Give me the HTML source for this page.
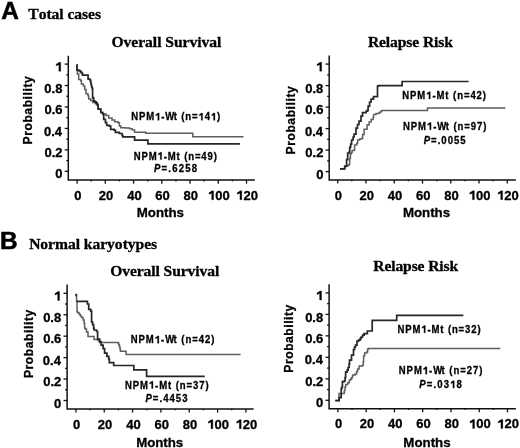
<!DOCTYPE html>
<html><head><meta charset="utf-8"><style>
html,body{margin:0;padding:0;background:#fff;}
svg{display:block;filter:grayscale(1);}
text{fill:#000;font-kerning:none;stroke:#000;stroke-width:0.3px;}
</style></head><body>
<svg width="520" height="448" viewBox="0 0 520 448">
<rect width="520" height="448" fill="#fff"/>
<path d="M68.30,55.80V180.10H254.80" fill="none" stroke="#111" stroke-width="1.5"/>
<path d="M64.70,64.10H68.30" stroke="#111" stroke-width="1.3"/>
<path d="M66.30,74.82H68.30" stroke="#111" stroke-width="1.3"/>
<path d="M64.70,85.54H68.30" stroke="#111" stroke-width="1.3"/>
<path d="M66.30,96.26H68.30" stroke="#111" stroke-width="1.3"/>
<path d="M64.70,106.98H68.30" stroke="#111" stroke-width="1.3"/>
<path d="M66.30,117.70H68.30" stroke="#111" stroke-width="1.3"/>
<path d="M64.70,128.42H68.30" stroke="#111" stroke-width="1.3"/>
<path d="M66.30,139.14H68.30" stroke="#111" stroke-width="1.3"/>
<path d="M64.70,149.86H68.30" stroke="#111" stroke-width="1.3"/>
<path d="M66.30,160.58H68.30" stroke="#111" stroke-width="1.3"/>
<path d="M64.70,171.30H68.30" stroke="#111" stroke-width="1.3"/>
<path d="M77.10,180.10V183.70" stroke="#111" stroke-width="1.3"/>
<path d="M91.22,180.10V181.40" stroke="#111" stroke-width="1.3"/>
<path d="M105.33,180.10V183.70" stroke="#111" stroke-width="1.3"/>
<path d="M119.45,180.10V181.40" stroke="#111" stroke-width="1.3"/>
<path d="M133.57,180.10V183.70" stroke="#111" stroke-width="1.3"/>
<path d="M147.68,180.10V181.40" stroke="#111" stroke-width="1.3"/>
<path d="M161.80,180.10V183.70" stroke="#111" stroke-width="1.3"/>
<path d="M175.92,180.10V181.40" stroke="#111" stroke-width="1.3"/>
<path d="M190.03,180.10V183.70" stroke="#111" stroke-width="1.3"/>
<path d="M204.15,180.10V181.40" stroke="#111" stroke-width="1.3"/>
<path d="M218.27,180.10V183.70" stroke="#111" stroke-width="1.3"/>
<path d="M232.38,180.10V181.40" stroke="#111" stroke-width="1.3"/>
<path d="M246.50,180.10V183.70" stroke="#111" stroke-width="1.3"/>
<path d="M329.20,55.50V180.00H515.90" fill="none" stroke="#111" stroke-width="1.5"/>
<path d="M325.60,64.10H329.20" stroke="#111" stroke-width="1.3"/>
<path d="M327.20,74.85H329.20" stroke="#111" stroke-width="1.3"/>
<path d="M325.60,85.60H329.20" stroke="#111" stroke-width="1.3"/>
<path d="M327.20,96.35H329.20" stroke="#111" stroke-width="1.3"/>
<path d="M325.60,107.10H329.20" stroke="#111" stroke-width="1.3"/>
<path d="M327.20,117.85H329.20" stroke="#111" stroke-width="1.3"/>
<path d="M325.60,128.60H329.20" stroke="#111" stroke-width="1.3"/>
<path d="M327.20,139.35H329.20" stroke="#111" stroke-width="1.3"/>
<path d="M325.60,150.10H329.20" stroke="#111" stroke-width="1.3"/>
<path d="M327.20,160.85H329.20" stroke="#111" stroke-width="1.3"/>
<path d="M325.60,171.60H329.20" stroke="#111" stroke-width="1.3"/>
<path d="M337.70,180.00V183.60" stroke="#111" stroke-width="1.3"/>
<path d="M351.83,180.00V181.30" stroke="#111" stroke-width="1.3"/>
<path d="M365.97,180.00V183.60" stroke="#111" stroke-width="1.3"/>
<path d="M380.10,180.00V181.30" stroke="#111" stroke-width="1.3"/>
<path d="M394.23,180.00V183.60" stroke="#111" stroke-width="1.3"/>
<path d="M408.37,180.00V181.30" stroke="#111" stroke-width="1.3"/>
<path d="M422.50,180.00V183.60" stroke="#111" stroke-width="1.3"/>
<path d="M436.63,180.00V181.30" stroke="#111" stroke-width="1.3"/>
<path d="M450.77,180.00V183.60" stroke="#111" stroke-width="1.3"/>
<path d="M464.90,180.00V181.30" stroke="#111" stroke-width="1.3"/>
<path d="M479.03,180.00V183.60" stroke="#111" stroke-width="1.3"/>
<path d="M493.17,180.00V181.30" stroke="#111" stroke-width="1.3"/>
<path d="M507.30,180.00V183.60" stroke="#111" stroke-width="1.3"/>
<path d="M67.10,284.50V409.00H253.60" fill="none" stroke="#111" stroke-width="1.5"/>
<path d="M63.50,293.30H67.10" stroke="#111" stroke-width="1.3"/>
<path d="M65.10,304.02H67.10" stroke="#111" stroke-width="1.3"/>
<path d="M63.50,314.74H67.10" stroke="#111" stroke-width="1.3"/>
<path d="M65.10,325.46H67.10" stroke="#111" stroke-width="1.3"/>
<path d="M63.50,336.18H67.10" stroke="#111" stroke-width="1.3"/>
<path d="M65.10,346.90H67.10" stroke="#111" stroke-width="1.3"/>
<path d="M63.50,357.62H67.10" stroke="#111" stroke-width="1.3"/>
<path d="M65.10,368.34H67.10" stroke="#111" stroke-width="1.3"/>
<path d="M63.50,379.06H67.10" stroke="#111" stroke-width="1.3"/>
<path d="M65.10,389.78H67.10" stroke="#111" stroke-width="1.3"/>
<path d="M63.50,400.50H67.10" stroke="#111" stroke-width="1.3"/>
<path d="M75.90,409.00V412.60" stroke="#111" stroke-width="1.3"/>
<path d="M90.07,409.00V410.30" stroke="#111" stroke-width="1.3"/>
<path d="M104.23,409.00V412.60" stroke="#111" stroke-width="1.3"/>
<path d="M118.40,409.00V410.30" stroke="#111" stroke-width="1.3"/>
<path d="M132.57,409.00V412.60" stroke="#111" stroke-width="1.3"/>
<path d="M146.73,409.00V410.30" stroke="#111" stroke-width="1.3"/>
<path d="M160.90,409.00V412.60" stroke="#111" stroke-width="1.3"/>
<path d="M175.07,409.00V410.30" stroke="#111" stroke-width="1.3"/>
<path d="M189.23,409.00V412.60" stroke="#111" stroke-width="1.3"/>
<path d="M203.40,409.00V410.30" stroke="#111" stroke-width="1.3"/>
<path d="M217.57,409.00V412.60" stroke="#111" stroke-width="1.3"/>
<path d="M231.73,409.00V410.30" stroke="#111" stroke-width="1.3"/>
<path d="M245.90,409.00V412.60" stroke="#111" stroke-width="1.3"/>
<path d="M329.10,284.20V408.70H515.90" fill="none" stroke="#111" stroke-width="1.5"/>
<path d="M325.50,292.90H329.10" stroke="#111" stroke-width="1.3"/>
<path d="M327.10,303.64H329.10" stroke="#111" stroke-width="1.3"/>
<path d="M325.50,314.38H329.10" stroke="#111" stroke-width="1.3"/>
<path d="M327.10,325.12H329.10" stroke="#111" stroke-width="1.3"/>
<path d="M325.50,335.86H329.10" stroke="#111" stroke-width="1.3"/>
<path d="M327.10,346.60H329.10" stroke="#111" stroke-width="1.3"/>
<path d="M325.50,357.34H329.10" stroke="#111" stroke-width="1.3"/>
<path d="M327.10,368.08H329.10" stroke="#111" stroke-width="1.3"/>
<path d="M325.50,378.82H329.10" stroke="#111" stroke-width="1.3"/>
<path d="M327.10,389.56H329.10" stroke="#111" stroke-width="1.3"/>
<path d="M325.50,400.30H329.10" stroke="#111" stroke-width="1.3"/>
<path d="M337.90,408.70V412.30" stroke="#111" stroke-width="1.3"/>
<path d="M352.03,408.70V410.00" stroke="#111" stroke-width="1.3"/>
<path d="M366.17,408.70V412.30" stroke="#111" stroke-width="1.3"/>
<path d="M380.30,408.70V410.00" stroke="#111" stroke-width="1.3"/>
<path d="M394.43,408.70V412.30" stroke="#111" stroke-width="1.3"/>
<path d="M408.57,408.70V410.00" stroke="#111" stroke-width="1.3"/>
<path d="M422.70,408.70V412.30" stroke="#111" stroke-width="1.3"/>
<path d="M436.83,408.70V410.00" stroke="#111" stroke-width="1.3"/>
<path d="M450.97,408.70V412.30" stroke="#111" stroke-width="1.3"/>
<path d="M465.10,408.70V410.00" stroke="#111" stroke-width="1.3"/>
<path d="M479.23,408.70V412.30" stroke="#111" stroke-width="1.3"/>
<path d="M493.37,408.70V410.00" stroke="#111" stroke-width="1.3"/>
<path d="M507.50,408.70V412.30" stroke="#111" stroke-width="1.3"/>
<text y="178.44" font-family='"Liberation Sans", sans-serif' font-weight="bold" font-size="13.0"><tspan x="55.30">0</tspan></text>
<text y="157.00" font-family='"Liberation Sans", sans-serif' font-weight="bold" font-size="13.0"><tspan x="44.45 51.68 55.29">0.2</tspan></text>
<text y="135.56" font-family='"Liberation Sans", sans-serif' font-weight="bold" font-size="13.0"><tspan x="44.00 51.23 54.84">0.4</tspan></text>
<text y="114.12" font-family='"Liberation Sans", sans-serif' font-weight="bold" font-size="13.0"><tspan x="44.40 51.63 55.24">0.6</tspan></text>
<text y="92.68" font-family='"Liberation Sans", sans-serif' font-weight="bold" font-size="13.0"><tspan x="44.33 51.56 55.17">0.8</tspan></text>
<text y="71.24" font-family='"Liberation Sans", sans-serif' font-weight="bold" font-size="13.0"><tspan x="55.13"> </tspan></text><path d="M586,0L586,1012L160,870L160,1100L640,1409L880,1409L880,0Z" transform="translate(55.13,71.24) scale(0.00635,-0.00635)" fill="#000" stroke="#000" stroke-width="0.3" vector-effect="non-scaling-stroke"/>
<text y="199.80" font-family='"Liberation Sans", sans-serif' font-weight="bold" font-size="13.0"><tspan x="74.19">0</tspan></text>
<text y="199.80" font-family='"Liberation Sans", sans-serif' font-weight="bold" font-size="13.0"><tspan x="98.84 106.07">20</tspan></text>
<text y="199.80" font-family='"Liberation Sans", sans-serif' font-weight="bold" font-size="13.0"><tspan x="127.20 134.43">40</tspan></text>
<text y="199.80" font-family='"Liberation Sans", sans-serif' font-weight="bold" font-size="13.0"><tspan x="155.30 162.53">60</tspan></text>
<text y="199.80" font-family='"Liberation Sans", sans-serif' font-weight="bold" font-size="13.0"><tspan x="183.56 190.79">80</tspan></text>
<text y="199.80" font-family='"Liberation Sans", sans-serif' font-weight="bold" font-size="13.0"><tspan x="207.98 215.21 222.44"> 00</tspan></text><path d="M586,0L586,1012L160,870L160,1100L640,1409L880,1409L880,0Z" transform="translate(207.98,199.80) scale(0.00635,-0.00635)" fill="#000" stroke="#000" stroke-width="0.3" vector-effect="non-scaling-stroke"/>
<text y="199.80" font-family='"Liberation Sans", sans-serif' font-weight="bold" font-size="13.0"><tspan x="236.21 243.44 250.67"> 20</tspan></text><path d="M586,0L586,1012L160,870L160,1100L640,1409L880,1409L880,0Z" transform="translate(236.21,199.80) scale(0.00635,-0.00635)" fill="#000" stroke="#000" stroke-width="0.3" vector-effect="non-scaling-stroke"/>
<text y="178.74" font-family='"Liberation Sans", sans-serif' font-weight="bold" font-size="13.0"><tspan x="316.20">0</tspan></text>
<text y="157.24" font-family='"Liberation Sans", sans-serif' font-weight="bold" font-size="13.0"><tspan x="305.35 312.58 316.19">0.2</tspan></text>
<text y="135.74" font-family='"Liberation Sans", sans-serif' font-weight="bold" font-size="13.0"><tspan x="304.90 312.13 315.74">0.4</tspan></text>
<text y="114.24" font-family='"Liberation Sans", sans-serif' font-weight="bold" font-size="13.0"><tspan x="305.30 312.53 316.14">0.6</tspan></text>
<text y="92.74" font-family='"Liberation Sans", sans-serif' font-weight="bold" font-size="13.0"><tspan x="305.23 312.46 316.07">0.8</tspan></text>
<text y="71.24" font-family='"Liberation Sans", sans-serif' font-weight="bold" font-size="13.0"><tspan x="316.03"> </tspan></text><path d="M586,0L586,1012L160,870L160,1100L640,1409L880,1409L880,0Z" transform="translate(316.03,71.24) scale(0.00635,-0.00635)" fill="#000" stroke="#000" stroke-width="0.3" vector-effect="non-scaling-stroke"/>
<text y="199.70" font-family='"Liberation Sans", sans-serif' font-weight="bold" font-size="13.0"><tspan x="334.79">0</tspan></text>
<text y="199.70" font-family='"Liberation Sans", sans-serif' font-weight="bold" font-size="13.0"><tspan x="359.48 366.71">20</tspan></text>
<text y="199.70" font-family='"Liberation Sans", sans-serif' font-weight="bold" font-size="13.0"><tspan x="387.87 395.10">40</tspan></text>
<text y="199.70" font-family='"Liberation Sans", sans-serif' font-weight="bold" font-size="13.0"><tspan x="416.00 423.23">60</tspan></text>
<text y="199.70" font-family='"Liberation Sans", sans-serif' font-weight="bold" font-size="13.0"><tspan x="444.30 451.53">80</tspan></text>
<text y="199.70" font-family='"Liberation Sans", sans-serif' font-weight="bold" font-size="13.0"><tspan x="468.75 475.98 483.21"> 00</tspan></text><path d="M586,0L586,1012L160,870L160,1100L640,1409L880,1409L880,0Z" transform="translate(468.75,199.70) scale(0.00635,-0.00635)" fill="#000" stroke="#000" stroke-width="0.3" vector-effect="non-scaling-stroke"/>
<text y="199.70" font-family='"Liberation Sans", sans-serif' font-weight="bold" font-size="13.0"><tspan x="497.01 504.24 511.47"> 20</tspan></text><path d="M586,0L586,1012L160,870L160,1100L640,1409L880,1409L880,0Z" transform="translate(497.01,199.70) scale(0.00635,-0.00635)" fill="#000" stroke="#000" stroke-width="0.3" vector-effect="non-scaling-stroke"/>
<text y="407.64" font-family='"Liberation Sans", sans-serif' font-weight="bold" font-size="13.0"><tspan x="54.10">0</tspan></text>
<text y="386.20" font-family='"Liberation Sans", sans-serif' font-weight="bold" font-size="13.0"><tspan x="43.25 50.48 54.09">0.2</tspan></text>
<text y="364.76" font-family='"Liberation Sans", sans-serif' font-weight="bold" font-size="13.0"><tspan x="42.80 50.03 53.64">0.4</tspan></text>
<text y="343.32" font-family='"Liberation Sans", sans-serif' font-weight="bold" font-size="13.0"><tspan x="43.20 50.43 54.04">0.6</tspan></text>
<text y="321.88" font-family='"Liberation Sans", sans-serif' font-weight="bold" font-size="13.0"><tspan x="43.13 50.36 53.97">0.8</tspan></text>
<text y="300.44" font-family='"Liberation Sans", sans-serif' font-weight="bold" font-size="13.0"><tspan x="53.93"> </tspan></text><path d="M586,0L586,1012L160,870L160,1100L640,1409L880,1409L880,0Z" transform="translate(53.93,300.44) scale(0.00635,-0.00635)" fill="#000" stroke="#000" stroke-width="0.3" vector-effect="non-scaling-stroke"/>
<text y="428.70" font-family='"Liberation Sans", sans-serif' font-weight="bold" font-size="13.0"><tspan x="72.99">0</tspan></text>
<text y="428.70" font-family='"Liberation Sans", sans-serif' font-weight="bold" font-size="13.0"><tspan x="97.74 104.97">20</tspan></text>
<text y="428.70" font-family='"Liberation Sans", sans-serif' font-weight="bold" font-size="13.0"><tspan x="126.20 133.43">40</tspan></text>
<text y="428.70" font-family='"Liberation Sans", sans-serif' font-weight="bold" font-size="13.0"><tspan x="154.40 161.63">60</tspan></text>
<text y="428.70" font-family='"Liberation Sans", sans-serif' font-weight="bold" font-size="13.0"><tspan x="182.76 189.99">80</tspan></text>
<text y="428.70" font-family='"Liberation Sans", sans-serif' font-weight="bold" font-size="13.0"><tspan x="207.28 214.51 221.74"> 00</tspan></text><path d="M586,0L586,1012L160,870L160,1100L640,1409L880,1409L880,0Z" transform="translate(207.28,428.70) scale(0.00635,-0.00635)" fill="#000" stroke="#000" stroke-width="0.3" vector-effect="non-scaling-stroke"/>
<text y="428.70" font-family='"Liberation Sans", sans-serif' font-weight="bold" font-size="13.0"><tspan x="235.61 242.84 250.07"> 20</tspan></text><path d="M586,0L586,1012L160,870L160,1100L640,1409L880,1409L880,0Z" transform="translate(235.61,428.70) scale(0.00635,-0.00635)" fill="#000" stroke="#000" stroke-width="0.3" vector-effect="non-scaling-stroke"/>
<text y="407.44" font-family='"Liberation Sans", sans-serif' font-weight="bold" font-size="13.0"><tspan x="316.10">0</tspan></text>
<text y="385.96" font-family='"Liberation Sans", sans-serif' font-weight="bold" font-size="13.0"><tspan x="305.25 312.48 316.09">0.2</tspan></text>
<text y="364.48" font-family='"Liberation Sans", sans-serif' font-weight="bold" font-size="13.0"><tspan x="304.80 312.03 315.64">0.4</tspan></text>
<text y="343.00" font-family='"Liberation Sans", sans-serif' font-weight="bold" font-size="13.0"><tspan x="305.20 312.43 316.04">0.6</tspan></text>
<text y="321.52" font-family='"Liberation Sans", sans-serif' font-weight="bold" font-size="13.0"><tspan x="305.13 312.36 315.97">0.8</tspan></text>
<text y="300.04" font-family='"Liberation Sans", sans-serif' font-weight="bold" font-size="13.0"><tspan x="315.93"> </tspan></text><path d="M586,0L586,1012L160,870L160,1100L640,1409L880,1409L880,0Z" transform="translate(315.93,300.04) scale(0.00635,-0.00635)" fill="#000" stroke="#000" stroke-width="0.3" vector-effect="non-scaling-stroke"/>
<text y="428.40" font-family='"Liberation Sans", sans-serif' font-weight="bold" font-size="13.0"><tspan x="334.99">0</tspan></text>
<text y="428.40" font-family='"Liberation Sans", sans-serif' font-weight="bold" font-size="13.0"><tspan x="359.68 366.91">20</tspan></text>
<text y="428.40" font-family='"Liberation Sans", sans-serif' font-weight="bold" font-size="13.0"><tspan x="388.07 395.30">40</tspan></text>
<text y="428.40" font-family='"Liberation Sans", sans-serif' font-weight="bold" font-size="13.0"><tspan x="416.20 423.43">60</tspan></text>
<text y="428.40" font-family='"Liberation Sans", sans-serif' font-weight="bold" font-size="13.0"><tspan x="444.50 451.73">80</tspan></text>
<text y="428.40" font-family='"Liberation Sans", sans-serif' font-weight="bold" font-size="13.0"><tspan x="468.95 476.18 483.41"> 00</tspan></text><path d="M586,0L586,1012L160,870L160,1100L640,1409L880,1409L880,0Z" transform="translate(468.95,428.40) scale(0.00635,-0.00635)" fill="#000" stroke="#000" stroke-width="0.3" vector-effect="non-scaling-stroke"/>
<text y="428.40" font-family='"Liberation Sans", sans-serif' font-weight="bold" font-size="13.0"><tspan x="497.21 504.44 511.67"> 20</tspan></text><path d="M586,0L586,1012L160,870L160,1100L640,1409L880,1409L880,0Z" transform="translate(497.21,428.40) scale(0.00635,-0.00635)" fill="#000" stroke="#000" stroke-width="0.3" vector-effect="non-scaling-stroke"/>
<text transform="translate(1.34,19.25) scale(1.0,1)" y="0" font-family='"Liberation Sans", sans-serif' font-weight="bold" font-size="24.4" style="stroke-width:0.55px"><tspan x="0.00">A</tspan></text>
<text transform="translate(28.31,19.05) scale(1.0,1)" y="0" font-family='"Liberation Serif", serif' font-weight="bold" font-size="15.6"><tspan x="0.00 10.36 18.11 23.25 31.00 35.28 39.13 46.01 53.76 59.78 66.65">Total cases</tspan></text>
<text transform="translate(0.12,249.35) scale(1.0,1)" y="0" font-family='"Liberation Sans", sans-serif' font-weight="bold" font-size="24.4" style="stroke-width:0.55px"><tspan x="0.00">B</tspan></text>
<text transform="translate(29.15,248.75) scale(1.0,1)" y="0" font-family='"Liberation Serif", serif' font-weight="bold" font-size="15.6"><tspan x="0.00 11.22 18.98 25.86 38.81 46.56 50.85 54.71 63.34 71.10 77.98 85.73 93.49 98.64 106.40 115.03 121.91">Normal karyotypes</tspan></text>
<text transform="translate(111.49,46.65) scale(1.0,1)" y="0" font-family='"Liberation Serif", serif' font-weight="bold" font-size="15.6"><tspan x="0.00 12.10 19.86 26.74 33.63 41.39 45.69 49.99 53.85 62.49 71.12 78.01 85.77 90.07 97.83 105.59">Overall Survival</tspan></text>
<text transform="translate(367.88,47.05) scale(1.0,1)" y="0" font-family='"Liberation Serif", serif' font-weight="bold" font-size="15.6"><tspan x="0.00 11.16 17.98 22.21 29.90 38.48 44.44 51.26 55.06 66.22 70.45 76.41">Relapse Risk</tspan></text>
<text transform="translate(110.19,275.65) scale(1.0,1)" y="0" font-family='"Liberation Serif", serif' font-weight="bold" font-size="15.6"><tspan x="0.00 12.04 19.75 26.58 33.42 41.13 45.37 49.61 53.42 62.01 70.59 77.42 85.13 89.38 97.09 104.79">Overall Survival</tspan></text>
<text transform="translate(373.28,270.95) scale(1.0,1)" y="0" font-family='"Liberation Serif", serif' font-weight="bold" font-size="15.6"><tspan x="0.00 11.14 17.94 22.16 29.83 38.39 44.33 51.13 54.91 66.05 70.27 76.21">Relapse Risk</tspan></text>
<text transform="translate(136.76,216.95) scale(1.0,1)" y="0" font-family='"Liberation Sans", sans-serif' font-weight="bold" font-size="13.3"><tspan x="0.00 11.05 19.15 27.24 31.64 39.74">Months</tspan></text>
<text transform="translate(402.96,217.35) scale(1.0,1)" y="0" font-family='"Liberation Sans", sans-serif' font-weight="bold" font-size="13.3"><tspan x="0.00 11.05 19.15 27.24 31.64 39.74">Months</tspan></text>
<text transform="translate(136.16,447.35) scale(1.0,1)" y="0" font-family='"Liberation Sans", sans-serif' font-weight="bold" font-size="13.3"><tspan x="0.00 11.03 19.11 27.18 31.56 39.64">Months</tspan></text>
<text transform="translate(403.36,446.95) scale(1.0,1)" y="0" font-family='"Liberation Sans", sans-serif' font-weight="bold" font-size="13.3"><tspan x="0.00 11.07 19.19 27.30 31.72 39.84">Months</tspan></text>
<g transform="rotate(-90)"><text transform="translate(-144.46,31.65) scale(0.9,1)" y="0" font-family='"Liberation Sans", sans-serif' font-weight="bold" font-size="13.4"><tspan x="0.00 9.59 15.45 24.29 33.12 41.23 50.06 54.43 58.81 63.18 68.29">Probability</tspan></text></g>
<g transform="rotate(-90)"><text transform="translate(-154.46,294.55) scale(0.9,1)" y="0" font-family='"Liberation Sans", sans-serif' font-weight="bold" font-size="13.4"><tspan x="0.00 9.59 15.45 24.29 33.12 41.23 50.06 54.43 58.81 63.18 68.29">Probability</tspan></text></g>
<g transform="rotate(-90)"><text transform="translate(-378.06,32.55) scale(0.9,1)" y="0" font-family='"Liberation Sans", sans-serif' font-weight="bold" font-size="13.4"><tspan x="0.00 9.60 15.48 24.32 33.17 41.28 50.13 54.51 58.90 63.28 68.40">Probability</tspan></text></g>
<g transform="rotate(-90)"><text transform="translate(-372.66,293.35) scale(0.9,1)" y="0" font-family='"Liberation Sans", sans-serif' font-weight="bold" font-size="13.4"><tspan x="0.00 9.57 15.41 24.22 33.03 41.12 49.93 54.28 58.63 62.98 68.07">Probability</tspan></text></g>
<text transform="translate(131.21,120.35) scale(0.9,1)" y="0" font-family='"Liberation Sans", sans-serif' font-weight="bold" font-size="10.6"><tspan x="0.00 8.64 16.69 26.50 33.37 37.88 47.17 51.68 55.61 60.12 67.58 74.75 81.62 88.50 95.37">NPM -Wt (n= 4 )</tspan></text><path d="M586,0L586,1012L160,870L160,1100L640,1409L880,1409L880,0Z" transform="translate(155.06,120.35) scale(0.00466,-0.00518)" fill="#000" stroke="#000" stroke-width="0.3" vector-effect="non-scaling-stroke"/><path d="M586,0L586,1012L160,870L160,1100L640,1409L880,1409L880,0Z" transform="translate(198.48,120.35) scale(0.00466,-0.00518)" fill="#000" stroke="#000" stroke-width="0.3" vector-effect="non-scaling-stroke"/><path d="M586,0L586,1012L160,870L160,1100L640,1409L880,1409L880,0Z" transform="translate(210.86,120.35) scale(0.00466,-0.00518)" fill="#000" stroke="#000" stroke-width="0.3" vector-effect="non-scaling-stroke"/>
<text transform="translate(133.71,159.55) scale(0.9,1)" y="0" font-family='"Liberation Sans", sans-serif' font-weight="bold" font-size="10.6"><tspan x="0.00 8.63 16.67 26.48 33.35 37.85 47.65 52.16 56.08 60.58 68.03 75.19 82.06 88.93">NPM -Mt (n=49)</tspan></text><path d="M586,0L586,1012L160,870L160,1100L640,1409L880,1409L880,0Z" transform="translate(157.54,159.55) scale(0.00466,-0.00518)" fill="#000" stroke="#000" stroke-width="0.3" vector-effect="non-scaling-stroke"/>
<text transform="translate(153.88,171.65) scale(0.9,1)" y="0" font-family='"Liberation Sans", sans-serif' font-weight="bold" font-size="10.6"><tspan x="0.00" font-style="italic">P</tspan><tspan x="8.45 16.02 20.35 27.62 34.90 42.17">=.6258</tspan></text>
<text transform="translate(402.21,98.95) scale(0.9,1)" y="0" font-family='"Liberation Sans", sans-serif' font-weight="bold" font-size="10.6"><tspan x="0.00 8.68 16.78 26.63 33.55 38.11 47.96 52.52 56.49 61.04 68.54 75.76 82.68 89.60">NPM -Mt (n=42)</tspan></text><path d="M586,0L586,1012L160,870L160,1100L640,1409L880,1409L880,0Z" transform="translate(426.18,98.95) scale(0.00466,-0.00518)" fill="#000" stroke="#000" stroke-width="0.3" vector-effect="non-scaling-stroke"/>
<text transform="translate(403.01,129.75) scale(0.9,1)" y="0" font-family='"Liberation Sans", sans-serif' font-weight="bold" font-size="10.6"><tspan x="0.00 8.69 16.79 26.65 33.57 38.13 47.47 52.04 56.01 60.57 68.08 75.30 82.23 89.15">NPM -Wt (n=97)</tspan></text><path d="M586,0L586,1012L160,870L160,1100L640,1409L880,1409L880,0Z" transform="translate(426.99,129.75) scale(0.00466,-0.00518)" fill="#000" stroke="#000" stroke-width="0.3" vector-effect="non-scaling-stroke"/>
<text transform="translate(423.68,144.35) scale(0.9,1)" y="0" font-family='"Liberation Sans", sans-serif' font-weight="bold" font-size="10.6"><tspan x="0.00" font-style="italic">P</tspan><tspan x="8.20 15.53 19.61 26.64 33.67 40.70">=.0055</tspan></text>
<text transform="translate(130.71,343.25) scale(0.9,1)" y="0" font-family='"Liberation Sans", sans-serif' font-weight="bold" font-size="10.6"><tspan x="0.00 8.71 16.84 26.72 33.68 38.26 47.63 52.21 56.22 60.80 68.33 75.58 82.53 89.48">NPM -Wt (n=42)</tspan></text><path d="M586,0L586,1012L160,870L160,1100L640,1409L880,1409L880,0Z" transform="translate(154.76,343.25) scale(0.00466,-0.00518)" fill="#000" stroke="#000" stroke-width="0.3" vector-effect="non-scaling-stroke"/>
<text transform="translate(124.91,388.55) scale(0.9,1)" y="0" font-family='"Liberation Sans", sans-serif' font-weight="bold" font-size="10.6"><tspan x="0.00 8.68 16.78 26.63 33.55 38.11 47.96 52.52 56.49 61.04 68.54 75.76 82.68 89.60">NPM -Mt (n=37)</tspan></text><path d="M586,0L586,1012L160,870L160,1100L640,1409L880,1409L880,0Z" transform="translate(148.88,388.55) scale(0.00466,-0.00518)" fill="#000" stroke="#000" stroke-width="0.3" vector-effect="non-scaling-stroke"/>
<text transform="translate(145.48,402.05) scale(0.9,1)" y="0" font-family='"Liberation Sans", sans-serif' font-weight="bold" font-size="10.6"><tspan x="0.00" font-style="italic">P</tspan><tspan x="8.22 15.56 19.65 26.70 33.74 40.79">=.4453</tspan></text>
<text transform="translate(397.41,332.85) scale(0.9,1)" y="0" font-family='"Liberation Sans", sans-serif' font-weight="bold" font-size="10.6"><tspan x="0.00 8.63 16.67 26.48 33.35 37.85 47.65 52.16 56.08 60.58 68.03 75.19 82.06 88.93">NPM -Mt (n=32)</tspan></text><path d="M586,0L586,1012L160,870L160,1100L640,1409L880,1409L880,0Z" transform="translate(421.24,332.85) scale(0.00466,-0.00518)" fill="#000" stroke="#000" stroke-width="0.3" vector-effect="non-scaling-stroke"/>
<text transform="translate(398.71,374.15) scale(0.9,1)" y="0" font-family='"Liberation Sans", sans-serif' font-weight="bold" font-size="10.6"><tspan x="0.00 8.72 16.86 26.75 33.71 38.31 47.68 52.27 56.28 60.88 68.42 75.68 82.64 89.60">NPM -Wt (n=27)</tspan></text><path d="M586,0L586,1012L160,870L160,1100L640,1409L880,1409L880,0Z" transform="translate(422.79,374.15) scale(0.00466,-0.00518)" fill="#000" stroke="#000" stroke-width="0.3" vector-effect="non-scaling-stroke"/>
<text transform="translate(419.18,388.05) scale(0.9,1)" y="0" font-family='"Liberation Sans", sans-serif' font-weight="bold" font-size="10.6"><tspan x="0.00" font-style="italic">P</tspan><tspan x="8.36 15.84 20.07 27.25 34.43 41.62">=.03 8</tspan></text><path d="M586,0L586,1012L160,870L160,1100L640,1409L880,1409L880,0Z" transform="translate(450.17,388.05) scale(0.00466,-0.00518)" fill="#000" stroke="#000" stroke-width="0.3" vector-effect="non-scaling-stroke"/>
<path d="M76.70,64.80H76.90V70.00H77.30V74.00H78.70V75.40V79.40H80.70V80.80H81.40V84.10H83.40V86.10H84.70V89.60H86.00V93.70H88.00V95.70H88.70V99.10H90.70V100.40H92.70V102.40H95.40V103.80H97.40V105.10H98.10V109.10H100.80V112.50H102.70V114.00H106.00V115.40H108.70V118.00H112.00V120.00H114.70V121.70H118.10V122.70H119.40V126.10H120.80V127.80H125.50V128.10H129.60V128.80H132.30V130.00H134.60V132.30H145.80V133.20H192.80V136.80H243.50" fill="none" stroke="#5e5e5e" stroke-width="1.5" stroke-linejoin="miter"/>
<path d="M76.70,64.80H77.00V70.00H78.30V70.30H79.40V70.90H80.40V71.80H81.30V72.70H82.00V73.70H82.60V75.10H88.10V79.20H89.90V79.80H90.40V81.00H90.80V83.00H91.20V85.00H91.60V87.00H92.20V88.70H92.60V97.60H93.40V98.20H93.70V101.10H95.00V101.80H96.20V102.80H97.00V103.80H97.40V105.10H98.10V109.10H100.80V112.50H102.70V114.00H103.70V119.40H105.40V122.70H106.70V125.40H109.40V126.10H110.70V129.40H114.10V130.10H115.40V132.40H119.40V133.50H122.10V135.50H122.80V136.90H134.60V140.20H147.90V143.80H239.90" fill="none" stroke="#262626" stroke-width="1.7" stroke-linejoin="miter"/>
<path d="M340.00,168.80H344.20H344.70V166.30H346.40V165.80H348.40V165.10H349.40V163.80H349.70V158.40H350.40V153.70H351.40V152.40H352.10V150.40H354.10V150.00H354.60V145.10H356.60V143.60H357.60V140.00H359.60V139.00H361.60V138.50H362.60V134.60H364.10V129.20H367.10V125.10H369.10V122.10H371.10V119.60H373.10V117.60H373.60V114.60H376.10V113.60H379.10V112.60H380.60V111.60H381.60V110.60H427.50V107.90H505.40" fill="none" stroke="#5e5e5e" stroke-width="1.5" stroke-linejoin="miter"/>
<path d="M340.00,168.80H344.20H344.70V166.30H346.40V165.80H346.60V159.70H347.70V158.40V153.00H349.10V152.00H349.70V147.70H350.40V146.30H350.70V144.10H351.60V140.00H353.10V137.00H354.10V134.20H356.00V128.20H357.50V124.50H359.00V121.10H361.00V116.10H362.50V112.60H366.10V111.10H367.60V110.10H368.10V106.10H369.60V102.00H371.10V99.10H373.50V96.60H377.50V86.10H378.50V85.60H402.10V81.50H468.60" fill="none" stroke="#262626" stroke-width="1.7" stroke-linejoin="miter"/>
<path d="M76.40,294.70H76.60V301.40H77.00V312.00H78.00V313.10H79.40V314.40H80.40V316.10H81.50V317.40H83.10V320.10H84.10V323.20H84.60V328.20H85.60V329.20H86.50V332.00H88.00V336.60H94.10V339.60H95.60H98.10V340.60H99.60V342.40H117.80V342.70H118.60V344.50H119.40V346.70H120.00V349.00H120.40V351.30H126.10V354.50H240.60" fill="none" stroke="#5e5e5e" stroke-width="1.5" stroke-linejoin="miter"/>
<path d="M76.80,301.40H86.70H87.40V304.00H88.70V309.40H90.10H90.70V311.10H91.40H91.60V322.10H92.60V324.60H93.60V328.20H94.10V330.00H96.60V331.50H97.60V339.10H99.60V341.60H101.10V345.10H103.10V348.60H104.60V353.10H106.90V356.30H108.80V359.20H109.30V362.60H113.20H113.70V365.50H133.40H133.80V369.80H146.30H146.60V376.30H204.75" fill="none" stroke="#262626" stroke-width="1.7" stroke-linejoin="miter"/>
<path d="M76.10,293.80V296.20" fill="none" stroke="#262626" stroke-width="1.7" stroke-linejoin="miter"/>
<path d="M335.30,400.60H339.00V393.40H343.70H344.30V390.40H345.00V387.00H345.70V384.40H347.40H347.70V382.70H349.10V382.00H349.40V380.00H350.40H350.70V379.00H351.60V377.60H352.60V375.10H355.10V374.10H356.60V371.60H357.60V369.00H359.10V366.00H362.20V365.50H363.20V362.00H363.60V356.10H364.60V353.10H366.60V352.10H367.60V349.10H368.60V348.60H500.30" fill="none" stroke="#5e5e5e" stroke-width="1.5" stroke-linejoin="miter"/>
<path d="M335.30,400.60H339.00H339.20V397.60H341.20V388.40H342.00V387.00H342.40V381.70H344.10V381.00H345.10V377.70H345.60V372.10H347.10V370.10H348.10V367.50H349.10V364.00H349.50V360.20H351.50V355.10H353.50V349.60H354.50V347.10H355.50V345.10H357.00V341.10H358.60V340.10H360.10V338.60H361.10V337.10H362.60V335.10H364.10V333.60H366.90V333.40H367.40V331.00H371.70H372.20V320.40H396.70V315.30H463.40" fill="none" stroke="#262626" stroke-width="1.7" stroke-linejoin="miter"/>
</svg>
</body></html>
